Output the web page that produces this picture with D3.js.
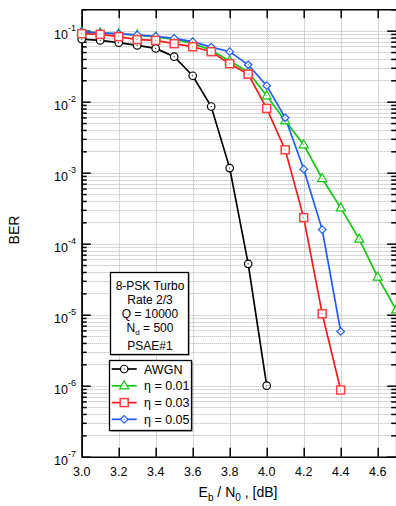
<!DOCTYPE html>
<html><head><meta charset="utf-8">
<script src="https://cdn.jsdelivr.net/npm/d3@7"></script>
<style>
html,body{margin:0;padding:0;background:#fff;}
svg{display:block;font-family:"Liberation Sans",Arial,sans-serif;}
</style></head>
<body>
<svg id="chart" width="396" height="506"></svg>
<script>
// ---- data ----
const awgnX   = [3.0,3.1,3.2,3.3,3.4,3.5,3.6,3.7,3.8,3.9,4.0];
const awgnBER = [0.076,0.073,0.0677,0.062,0.0563,0.043,0.0232,0.00855,0.00116,5.2e-5,1.0e-6];

const eta001X   = [3.0,3.1,3.2,3.3,3.4,3.5,3.6,3.7,3.8,3.9,4.0,4.1,4.2,4.3,4.4,4.5,4.6,4.7];
const eta001BER = [0.096,0.093,0.0905,0.0867,0.0818,0.0754,0.0662,0.053,0.0375,0.0262,0.0121,0.00538,0.00247,8.26e-4,3.19e-4,1.16e-4,3.39e-5,1.17e-5];

const eta003X   = [3.0,3.1,3.2,3.3,3.4,3.5,3.6,3.7,3.8,3.9,4.0,4.1,4.2,4.3,4.4];
const eta003BER = [0.0908,0.0887,0.0823,0.0747,0.073,0.0656,0.0594,0.0506,0.0343,0.0244,0.00802,0.0021,2.33e-4,1.03e-5,8.7e-7];

const eta005X   = [3.0,3.1,3.2,3.3,3.4,3.5,3.6,3.7,3.8,3.9,4.0,4.1,4.2,4.3,4.4];
const eta005BER = [0.096,0.093,0.09,0.0873,0.083,0.078,0.07,0.0587,0.0506,0.0331,0.0168,0.00593,0.00112,1.58e-4,5.8e-6];

const seriesNames = ["AWGN","η = 0.01","η = 0.03","η = 0.05"];
const xTickValues = [3.0,3.2,3.4,3.6,3.8,4.0,4.2,4.4,4.6];
const yDecades = [1e-7,1e-6,1e-5,1e-4,1e-3,1e-2,1e-1];
const yDecadeExps = ["-7","-6","-5","-4","-3","-2","-1"];
const infoLines = ["8-PSK Turbo","Rate 2/3","Q = 10000","N_d = 500","PSAE#1"];

// ---- layout ----
const L = 81.7, R = 396.2, T = 9.3, B = 456.7;
const svg = d3.select("#chart");
const x = d3.scaleLinear().domain([3.0, 4.7]).range([L, R]);
const y = d3.scaleLog().domain([1e-7, 0.2]).range([B, T]);

const minorVals = [];
for (let e = -7; e <= -1; e++) for (let k = 2; k <= 9; k++) {
  const v = k * Math.pow(10, e);
  if (v <= 0.2) minorVals.push(v);
}
const gridY = minorVals.concat(yDecades.slice(1));

// grid
const grid = svg.append("g").attr("stroke", "#b0b0b0").attr("stroke-width", 1).attr("stroke-dasharray", "1,1");
grid.selectAll("line.h").data(gridY).join("line").attr("class","h")
  .attr("x1", L).attr("x2", R).attr("y1", d => Math.round(y(d)) + 0.5).attr("y2", d => Math.round(y(d)) + 0.5);
grid.selectAll("line.v").data(xTickValues.slice(1)).join("line").attr("class","v")
  .attr("x1", d => Math.round(x(d)) + 0.5).attr("x2", d => Math.round(x(d)) + 0.5).attr("y1", T).attr("y2", B);

// axes (ticks inward)
function styleAxis(g){ g.selectAll("path").attr("stroke","#000").attr("stroke-width",1.5); g.selectAll("line").attr("stroke","#000").attr("stroke-width",1.5); g.selectAll("text").remove(); }
svg.append("g").attr("transform",`translate(${L},0)`).call(d3.axisRight(y).tickValues(yDecades).tickSizeInner(9).tickSizeOuter(0).tickFormat("")).call(styleAxis);
svg.append("g").attr("transform",`translate(${L},0)`).call(d3.axisRight(y).tickValues(minorVals).tickSizeInner(5).tickSizeOuter(0).tickFormat("")).call(styleAxis);
svg.append("g").attr("transform",`translate(${R},0)`).call(d3.axisLeft(y).tickValues(yDecades).tickSizeInner(9).tickSizeOuter(0).tickFormat("")).call(styleAxis);
svg.append("g").attr("transform",`translate(${R},0)`).call(d3.axisLeft(y).tickValues(minorVals).tickSizeInner(5).tickSizeOuter(0).tickFormat("")).call(styleAxis);
svg.append("g").attr("transform",`translate(0,${T})`).call(d3.axisBottom(x).tickValues(xTickValues.slice(1)).tickSizeInner(9).tickSizeOuter(0).tickFormat("")).call(styleAxis);
svg.append("g").attr("transform",`translate(0,${B})`).call(d3.axisTop(x).tickValues(xTickValues.slice(1)).tickSizeInner(9).tickSizeOuter(0).tickFormat("")).call(styleAxis);

// tick labels
svg.append("g").selectAll("text").data(xTickValues).join("text")
  .attr("x", d => x(d)).attr("y", B + 19).attr("text-anchor","middle")
  .attr("font-size", 12.5).attr("fill","#000").text(d => d.toFixed(1));
const yl = svg.append("g").selectAll("text").data(yDecades).join("text")
  .attr("x", 76).attr("y", d => y(d) + 8).attr("text-anchor","end").attr("font-size", 12.5).attr("fill","#000");
yl.append("tspan").text("10");
yl.append("tspan").attr("font-size", 9).attr("dy", -8).text((d,i) => yDecadeExps[i]);

// axis titles
const xt = svg.append("text").attr("x", 238).attr("y", 497).attr("text-anchor","middle").attr("font-size", 14).attr("fill","#000");
xt.append("tspan").text("E");
xt.append("tspan").attr("font-size", 10).attr("dy", 3.5).text("b");
xt.append("tspan").attr("dy", -3.5).text(" / N");
xt.append("tspan").attr("font-size", 10).attr("dy", 3.5).text("0");
xt.append("tspan").attr("dy", -3.5).text(" , [dB]");
svg.append("text").attr("transform","translate(19,230) rotate(-90)").attr("text-anchor","middle")
  .attr("font-size", 14).attr("fill","#000").text("BER");

// markers
function marker(g, type, color, size){
  if (type === "circle") g.append("circle").attr("r", size/2).attr("fill","#fff").attr("stroke",color).attr("stroke-width",1.2);
  if (type === "square") g.append("rect").attr("x",-size/2).attr("y",-size/2).attr("width",size).attr("height",size).attr("fill","#fff").attr("stroke",color).attr("stroke-width",1.5);
  if (type === "triangle") g.append("path").attr("d",`M0,${-size/2-1}L${size/2+0.5},${size/2-1}L${-size/2-0.5},${size/2-1}Z`).attr("fill","#fff").attr("stroke",color).attr("stroke-width",1.2);
  if (type === "diamond") g.append("path").attr("d",`M0,${-size/2}L${size/2},0L0,${size/2}L${-size/2},0Z`).attr("fill","#fff").attr("stroke",color).attr("stroke-width",1.2);
  g.append("rect").attr("x",-0.5).attr("y",-0.5).attr("width",1).attr("height",1).attr("fill",color);
}

const series = [
  {name: seriesNames[0], xs: awgnX,   ys: awgnBER,   color:"#000000", mcolor:"#000000", type:"circle",   size:7.5},
  {name: seriesNames[1], xs: eta001X, ys: eta001BER, color:"#10c810", mcolor:"#10c810", type:"triangle", size:8},
  {name: seriesNames[3], xs: eta005X, ys: eta005BER, color:"#1f5cff", mcolor:"#1f5cff", type:"diamond",  size:7.5},
  {name: seriesNames[2], xs: eta003X, ys: eta003BER, color:"#ff1a1a", mcolor:"#ff4040", type:"square",   size:8}
];
const line = d3.line().x(d => x(d[0])).y(d => y(d[1]));
const plot = svg.append("g");
series.forEach(s => {
  const pts = s.xs.map((v,i) => [v, s.ys[i]]);
  plot.append("path").attr("d", line(pts)).attr("fill","none").attr("stroke", s.color).attr("stroke-width", 1.7);
});
series.forEach(s => {
  const pts = s.xs.map((v,i) => [v, s.ys[i]]);
  plot.selectAll(null).data(pts).join("g").attr("transform", d => `translate(${x(d[0])},${y(d[1])})`)
    .each(function(){ marker(d3.select(this), s.type, s.mcolor, s.size); });
});

// info box
const ib = svg.append("g");
ib.append("rect").attr("x",111.5).attr("y",273.5).attr("width",78).attr("height",82).attr("fill","#888");
ib.append("rect").attr("x",110.5).attr("y",272.5).attr("width",78).attr("height",82).attr("fill","#fff").attr("stroke","#000").attr("stroke-width",1.3);
const infoY = [289.5, 303.8, 317.8, 332, 350.3];
infoLines.forEach((t,i) => {
  const tx = ib.append("text").attr("x",150).attr("y",infoY[i]).attr("text-anchor","middle").attr("font-size",12).attr("fill","#000");
  if (t.includes("_")) {
    const parts = t.split("_");
    tx.append("tspan").text(parts[0]);
    tx.append("tspan").attr("font-size",8).attr("dy",3).text(parts[1][0]);
    tx.append("tspan").attr("dy",-3).text(parts[1].slice(1));
  } else tx.text(t);
});

// legend
const lg = svg.append("g");
lg.append("rect").attr("x",110.5).attr("y",361.5).attr("width",82).attr("height",70).attr("fill","#666");
lg.append("rect").attr("x",109.5).attr("y",360.5).attr("width",82).attr("height",70).attr("fill","#fff").attr("stroke","#000").attr("stroke-width",1.3);
const legOrder = [series[0], series[1], series[3], series[2]];
const legY = [369, 385.8, 402.6, 419.3];
legOrder.forEach((s,i) => {
  lg.append("line").attr("x1",111.7).attr("x2",136.7).attr("y1",legY[i]).attr("y2",legY[i]).attr("stroke",s.color).attr("stroke-width",1.7);
  const g = lg.append("g").attr("transform",`translate(124.2,${legY[i]})`);
  marker(g, s.type, s.mcolor, s.size);
  lg.append("text").attr("x",144).attr("y",legY[i]+4.5).attr("font-size",12.5).attr("fill","#000").text(s.name);
});
</script>
</body></html>
